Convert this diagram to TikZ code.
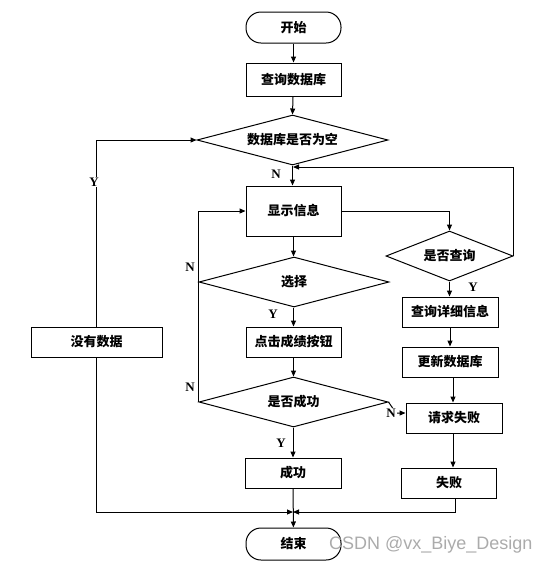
\documentclass[tikz,border=0pt]{standalone}
\usepackage{fontspec}
\setmainfont{Liberation Serif}
\setsansfont{Liberation Sans}
\newfontfamily\cjk{Noto Sans CJK SC}
\usetikzlibrary{shapes.geometric,arrows.meta}
\begin{document}
\begin{tikzpicture}[x=1pt,y=-1pt,
  every node/.style={font=\fontsize{13pt}{15pt}\selectfont\cjk\bfseries},
  procbox/.style={draw,line width=1pt,rectangle,inner sep=0pt,minimum width=95pt,minimum height=30pt},
  termbox/.style={draw,line width=1pt,rectangle,rounded corners=15pt,inner sep=0pt,minimum width=95pt,minimum height=31pt},
  decbox/.style={draw,line width=1pt,diamond,aspect=4,inner sep=0pt,minimum height=50pt},
  yn/.style={font=\fontsize{13pt}{15pt}\selectfont\bfseries\rmfamily,fill=white,inner sep=1pt},
  conn/.style={line width=1pt,-{Triangle[length=6pt,width=5pt]}},
  plain/.style={line width=1pt},
  wm/.style={font=\fontsize{18pt}{20pt}\selectfont\sffamily\mdseries,text=black!33}]
\useasboundingbox (0,0) rectangle (550,566);

\node[termbox] (start) at (293.5,27.5) {开始};
\node[procbox,minimum height=33pt] (q1) at (293.5,79.5) {查询数据库};
\node[decbox,minimum width=191pt] (d1) at (292.5,140) {数据库是否为空};
\node[procbox,minimum height=50pt] (show) at (293.5,211) {显示信息};
\node[decbox,minimum width=190pt] (d2) at (294,282) {选择};
\node[procbox] (click) at (293.5,342) {点击成绩按钮};
\node[decbox,minimum width=189pt] (d3) at (293.5,402) {是否成功};
\node[procbox,minimum width=96pt] (succ) at (293,473) {成功};
\node[termbox,minimum height=32pt] (end) at (293.5,544) {结束};
\node[decbox,minimum width=127pt] (d4) at (449.5,256) {是否查询};
\node[procbox,minimum width=96pt] (detail) at (450,312) {查询详细信息};
\node[procbox,minimum width=96pt] (upd) at (450,362) {更新数据库};
\node[procbox,minimum width=96pt] (reqf) at (454,418) {请求失败};
\node[procbox] (fail) at (449,483) {失败};
\node[procbox,minimum width=131pt] (none) at (96.5,342) {没有数据};

\coordinate (m1) at (293,167);
\coordinate (m2) at (293,512);
\coordinate (nA) at (396,413);

\draw[conn] (start) -- (q1);
\draw[conn] (q1) -- (d1.north);
\draw[conn] (d1.south) -- (show.north -| d1.south);
\draw[conn] (show.south) -- (d2.north -| show.south);
\draw[conn] (d2.south -| click) -- (click.north);
\draw[conn] (click) -- (d3.north);
\draw[conn] (d3.south -| succ) -- (succ.north);
\draw[conn] (succ) -- (end);

\draw[conn] (none.north) |- (d1.west);
\draw[conn] (none.south) |- (m2);
\draw[conn] (fail.south -| 455,0) |- (m2);

\draw[conn] (show.east) -| (d4.north);
\draw[conn] (d4.east) |- (m1);
\draw[conn] (d4.south) -- (detail.north -| d4.south);
\draw[conn] (detail) -- (upd);
\draw[conn] (upd.south -| 453,0) -- (reqf.north -| 453,0);
\draw[conn] (reqf.south -| 453,0) -- (fail.north -| 453,0);

\draw[conn] (d2.west) |- (show.west);
\draw[plain] (d3.west) -- (d2.west);
\draw[conn] (d3.east) -- (nA) -- (nA -| reqf.west);

\node[yn] at (276,174) {N};
\node[yn] at (94,182) {Y};
\node[yn] at (473,287) {Y};
\node[yn] at (190,267) {N};
\node[yn] at (190,387) {N};
\node[yn] at (273,314) {Y};
\node[yn] at (281,443) {Y};
\node[yn] at (391,413) {N};

\node[wm,anchor=west,inner sep=0pt] (wmk) at (329,545) {CSDN @vx\_Biye\_Design};
\end{tikzpicture}
\end{document}
